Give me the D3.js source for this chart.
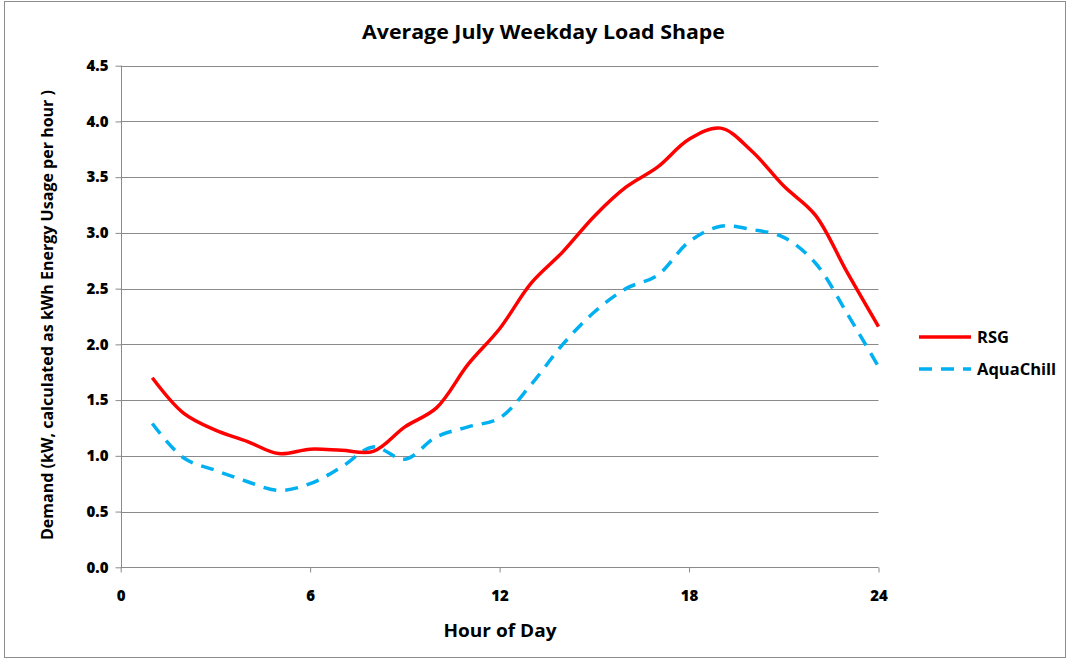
<!DOCTYPE html>
<html><head><meta charset="utf-8">
<script src="https://cdn.jsdelivr.net/npm/d3@7"></script>
<style>body{margin:0;background:#fff}svg{display:block}</style>
</head><body>
<svg id="c" width="1070" height="658"></svg>
<script>
const hours = [1,2,3,4,5,6,7,8,9,10,11,12,13,14,15,16,17,18,19,20,21,22,23,24];
const rsg = [1.70,1.38,1.23,1.13,1.02,1.06,1.05,1.04,1.26,1.43,1.82,2.14,2.55,2.83,3.15,3.41,3.59,3.84,3.94,3.73,3.42,3.16,2.65,2.16];
const aquaChill = [1.29,0.98,0.87,0.77,0.69,0.75,0.90,1.08,0.97,1.17,1.26,1.34,1.64,2.00,2.29,2.50,2.62,2.92,3.06,3.03,2.96,2.73,2.28,1.80];
const xTicks = [0,6,12,18,24];
const yTicks = [0,0.5,1,1.5,2,2.5,3,3.5,4,4.5];
const seriesNames = ["RSG","AquaChill"];

const svg = d3.select("#c");
const font = "'Open Sans',sans-serif";
const x = d3.scaleLinear().domain([0,24]).range([120.7,878.5]);
const y = d3.scaleLinear().domain([0,4.5]).range([567.3,65.7]);

svg.append("rect").attr("x",4.5).attr("y",1.5).attr("width",1061).attr("height",656).attr("fill","none").attr("stroke","#8c8c8c").attr("stroke-width",1);

// gridlines
svg.append("g").selectAll("line").data(yTicks.filter(d=>d>0)).join("line")
  .attr("x1",x(0)).attr("x2",x(24)).attr("y1",d=>Math.round(y(d))+0.5).attr("y2",d=>Math.round(y(d))+0.5)
  .attr("stroke","#8a8a8a").attr("stroke-width",1);

// y axis
const ya = svg.append("g").attr("transform",`translate(${Math.round(x(0))+0.5},0)`)
  .call(d3.axisLeft(y).tickValues(yTicks).tickFormat(d3.format(".1f")).tickSize(6).tickPadding(7));
ya.select(".domain").attr("stroke","#8a8a8a").attr("d",`M0,${y(4.5)}V${y(0)}`);
ya.selectAll(".tick line").attr("stroke","#8a8a8a");
ya.selectAll("text").attr("font-family",font).attr("font-weight","800").attr("font-size",15).attr("fill","#000");

// x axis
const xa = svg.append("g").attr("transform",`translate(0,${Math.round(y(0))+0.5})`)
  .call(d3.axisBottom(x).tickValues(xTicks).tickSize(5).tickPadding(18));
xa.select(".domain").attr("stroke","#8a8a8a").attr("d",`M${x(0)},0H${x(24)}`);
xa.selectAll(".tick line").attr("stroke","#8a8a8a");
xa.selectAll("text").attr("font-family",font).attr("font-weight","800").attr("font-size",15).attr("fill","#000");

// lines
const line = d3.line().x((d,i)=>x(hours[i])).y(d=>y(d)).curve(d3.curveCatmullRom.alpha(0.5));
svg.append("path").datum(aquaChill).attr("d",line).attr("fill","none").attr("stroke","#00B0F0").attr("stroke-width",3.5).attr("stroke-dasharray","13,9");
svg.append("path").datum(rsg).attr("d",line).attr("fill","none").attr("stroke","#FF0000").attr("stroke-width",3.5);

// titles
svg.append("text").attr("x",543.5).attr("y",39).attr("text-anchor","middle")
  .attr("font-family",font).attr("font-weight","bold").attr("font-size",20)
  .attr("textLength",363).attr("lengthAdjust","spacingAndGlyphs").text("Average July Weekday Load Shape");
svg.append("text").attr("x",500).attr("y",637).attr("text-anchor","middle")
  .attr("font-family",font).attr("font-weight","bold").attr("font-size",17)
  .attr("textLength",113).attr("lengthAdjust","spacingAndGlyphs").text("Hour of Day");
svg.append("text").attr("transform","translate(53,315) rotate(-90)").attr("text-anchor","middle")
  .attr("font-family",font).attr("font-weight","bold").attr("font-size",16)
  .attr("textLength",450).attr("lengthAdjust","spacingAndGlyphs").text("Demand (kW, calculated as kWh Energy Usage per hour )");

// legend
const lg = svg.append("g");
const items = [{n:seriesNames[0],c:"#FF0000",dash:null,y:337},{n:seriesNames[1],c:"#00B0F0",dash:"13,9",y:369}];
items.forEach(it=>{
  lg.append("line").attr("x1",919).attr("x2",971).attr("y1",it.y).attr("y2",it.y).attr("stroke",it.c).attr("stroke-width",3.5).attr("stroke-dasharray",it.dash);
  lg.append("text").attr("x",977).attr("y",it.y+6).attr("font-family",font).attr("font-weight","bold").attr("font-size",16.5).text(it.n);
});
</script>
</body></html>
